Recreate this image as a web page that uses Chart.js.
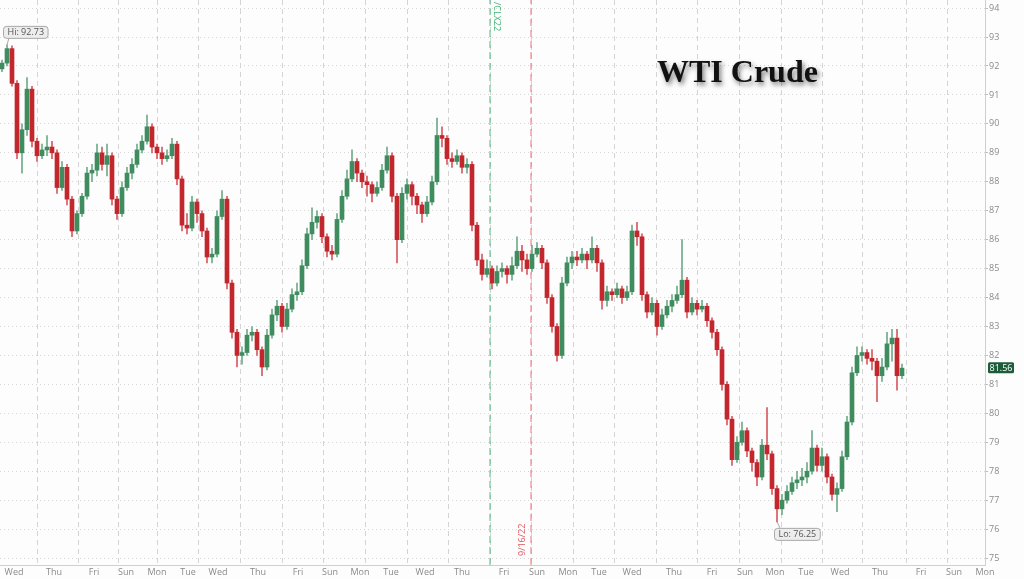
<!DOCTYPE html>
<html lang="en">
<head>
<meta charset="UTF-8">
<title>WTI Crude</title>
<script src="https://cdn.jsdelivr.net/npm/chart.js@4.4.0/dist/chart.umd.min.js"></script>
<style>
  html, body { margin: 0; padding: 0; background: #fdfdfd; }
  canvas { display: block; }
</style>
</head>
<body>
<canvas id="wti" width="1024" height="579"></canvas>
<script>
// hourly-ish WTI candles (one candle per slot)
const opens = [
  91.9, 92.1, 92.6, 91.4, 89.0, 89.8, 91.2, 89.4, 88.9, 89.1,
  89.2, 89.0, 87.8, 88.5, 87.4, 86.3, 86.9, 87.5, 88.3, 88.4,
  89.0, 88.6, 88.9, 87.4, 86.9, 87.8, 88.3, 88.6, 89.1, 89.4,
  89.9, 89.2, 89.0, 88.8, 88.9, 89.3, 88.1, 86.5, 86.4, 87.3,
  86.9, 86.3, 85.4, 85.5, 86.8, 87.4, 84.5, 82.8, 82.0, 82.1,
  82.7, 82.8, 82.2, 81.6, 82.7, 83.4, 83.7, 83.0, 83.6, 84.1,
  84.2, 85.1, 86.2, 86.6, 86.8, 86.1, 85.6, 85.5, 86.7, 87.5,
  88.1, 88.7, 88.3, 88.0, 87.9, 87.6, 87.8, 88.4, 88.9, 87.5,
  86.0, 87.6, 87.9, 87.5, 87.2, 86.9, 87.3, 88.0, 89.6, 89.5,
  88.8, 88.7, 88.9, 88.5, 88.6, 86.5, 85.3, 84.8, 85.0, 84.5,
  84.9, 85.0, 84.8, 85.1, 85.6, 85.3, 85.0, 85.5, 85.7, 85.2,
  84.0, 83.0, 82.0, 84.5, 85.2, 85.4, 85.3, 85.5, 85.3, 85.7,
  85.2, 83.9, 84.2, 84.1, 84.3, 84.0, 84.2, 86.3, 86.1, 84.1,
  83.5, 83.8, 83.0, 83.4, 83.7, 83.9, 84.1, 84.6, 83.5, 83.8,
  83.6, 83.7, 83.2, 82.8, 82.2, 81.0, 79.8, 78.4, 79.0, 79.4,
  78.7, 78.3, 77.8, 78.9, 78.6, 77.4, 76.7, 77.0, 77.3, 77.6,
  77.7, 77.8, 78.0, 78.8, 78.2, 78.5, 77.8, 77.2, 77.4, 78.5,
  79.7, 81.4, 82.0, 82.1, 81.9, 81.8, 81.3, 81.6, 82.4, 82.6,
  81.3
];
const closes = [
  92.1, 92.6, 91.4, 89.0, 89.8, 91.2, 89.4, 88.9, 89.1, 89.2,
  89.0, 87.8, 88.5, 87.4, 86.3, 86.9, 87.5, 88.3, 88.4, 89.0,
  88.6, 88.9, 87.4, 86.9, 87.8, 88.3, 88.6, 89.1, 89.4, 89.9,
  89.2, 89.0, 88.8, 88.9, 89.3, 88.1, 86.5, 86.4, 87.3, 86.9,
  86.3, 85.4, 85.5, 86.8, 87.4, 84.5, 82.8, 82.0, 82.1, 82.7,
  82.8, 82.2, 81.6, 82.7, 83.4, 83.7, 83.0, 83.6, 84.1, 84.2,
  85.1, 86.2, 86.6, 86.8, 86.1, 85.6, 85.5, 86.7, 87.5, 88.1,
  88.7, 88.3, 88.0, 87.9, 87.6, 87.8, 88.4, 88.9, 87.5, 86.0,
  87.6, 87.9, 87.5, 87.2, 86.9, 87.3, 88.0, 89.6, 89.5, 88.8,
  88.7, 88.9, 88.5, 88.6, 86.5, 85.3, 84.8, 85.0, 84.5, 84.9,
  85.0, 84.8, 85.1, 85.6, 85.3, 85.0, 85.5, 85.7, 85.2, 84.0,
  83.0, 82.0, 84.5, 85.2, 85.4, 85.3, 85.5, 85.3, 85.7, 85.2,
  83.9, 84.2, 84.1, 84.3, 84.0, 84.2, 86.3, 86.1, 84.1, 83.5,
  83.8, 83.0, 83.4, 83.7, 83.9, 84.1, 84.6, 83.5, 83.8, 83.6,
  83.7, 83.2, 82.8, 82.2, 81.0, 79.8, 78.4, 79.0, 79.4, 78.7,
  78.3, 77.8, 78.9, 78.6, 77.4, 76.7, 77.0, 77.3, 77.6, 77.7,
  77.8, 78.0, 78.8, 78.2, 78.5, 77.8, 77.2, 77.4, 78.5, 79.7,
  81.4, 82.0, 82.1, 81.9, 81.8, 81.3, 81.6, 82.4, 82.6, 81.3,
  81.56
];
const highs = [
  92.2, 92.73, 92.7, 91.5, 90.0, 91.6, 91.3, 89.5, 89.3, 89.6,
  89.4, 89.1, 88.7, 88.6, 87.5, 87.0, 87.6, 88.5, 88.6, 89.3,
  89.2, 89.3, 89.0, 87.5, 88.0, 88.5, 88.8, 89.3, 89.6, 90.3,
  90.0, 89.3, 89.2, 89.1, 89.5, 89.4, 88.2, 86.9, 87.5, 87.4,
  87.0, 86.4, 85.7, 87.0, 87.7, 87.5, 84.6, 82.9, 82.3, 82.9,
  83.0, 82.9, 82.3, 82.9, 83.6, 83.9, 83.8, 83.8, 84.3, 84.5,
  85.3, 86.4, 87.1, 87.0, 86.9, 86.2, 85.8, 86.9, 87.7, 88.4,
  89.1, 88.8, 88.4, 88.2, 88.0, 88.0, 88.6, 89.2, 89.0, 87.6,
  87.8, 88.1, 88.0, 87.6, 87.3, 87.5, 88.2, 90.2, 89.9, 89.6,
  89.0, 89.1, 89.0, 88.8, 88.7, 86.6, 85.5, 85.3, 85.1, 85.1,
  85.2, 85.1, 85.4, 86.1, 85.8, 85.5, 85.8, 85.9, 85.8, 85.3,
  84.1, 83.1, 84.7, 85.4, 85.6, 85.6, 85.7, 85.6, 86.1, 85.8,
  85.3, 84.4, 84.3, 84.5, 84.4, 84.4, 86.5, 86.6, 86.2, 84.2,
  84.0, 83.9, 83.6, 83.9, 84.1, 84.4, 86.0, 84.7, 84.0, 83.9,
  83.9, 83.8, 83.3, 82.9, 82.3, 81.1, 79.9, 79.2, 79.7, 79.5,
  78.8, 78.4, 79.1, 80.2, 78.7, 77.5, 77.2, 77.5, 77.8, 78.0,
  78.1, 78.3, 79.4, 78.9, 78.8, 78.6, 77.9, 77.6, 78.7, 79.9,
  81.6, 82.3, 82.3, 82.2, 82.2, 81.9, 81.9, 82.8, 82.9, 82.9,
  81.7
];
const lows = [
  91.8, 92.0, 91.3, 88.8, 88.3, 89.6, 89.2, 88.7, 88.8, 88.9,
  88.8, 87.6, 87.7, 87.2, 86.1, 86.2, 86.8, 87.4, 88.0, 88.2,
  88.4, 88.2, 87.2, 86.7, 86.8, 87.7, 88.1, 88.5, 89.0, 89.3,
  89.0, 88.8, 88.6, 88.7, 88.8, 87.9, 86.3, 86.2, 86.3, 86.6,
  86.1, 85.2, 85.2, 85.4, 86.7, 84.3, 82.6, 81.6, 81.7, 82.0,
  82.5, 82.0, 81.3, 81.5, 82.6, 83.2, 82.8, 82.9, 83.5, 83.9,
  84.1, 85.0, 86.0, 86.4, 85.9, 85.4, 85.3, 85.4, 86.6, 87.4,
  88.0, 88.0, 87.8, 87.5, 87.3, 87.5, 87.7, 88.3, 87.3, 85.2,
  85.9, 87.4, 87.2, 86.9, 86.6, 86.8, 87.2, 87.9, 89.2, 88.6,
  88.5, 88.6, 88.3, 88.3, 86.3, 85.1, 84.6, 84.7, 84.3, 84.4,
  84.7, 84.5, 84.6, 85.0, 84.9, 84.8, 84.9, 85.4, 85.0, 83.8,
  82.8, 81.8, 81.9, 84.4, 85.0, 85.1, 85.2, 85.0, 85.2, 84.9,
  83.6, 83.7, 83.9, 84.0, 83.8, 83.9, 84.1, 85.8, 83.9, 83.3,
  83.4, 82.7, 82.9, 83.3, 83.5, 83.8, 84.0, 83.3, 83.4, 83.4,
  83.5, 83.0, 82.6, 82.0, 80.8, 79.6, 78.2, 78.3, 78.9, 78.5,
  78.0, 77.5, 77.7, 78.4, 77.2, 76.25, 76.5, 76.9, 77.2, 77.4,
  77.5, 77.6, 77.9, 78.0, 78.0, 77.6, 77.0, 76.6, 77.3, 78.4,
  79.6, 81.3, 81.8, 81.7, 81.5, 80.4, 81.1, 81.5, 81.8, 80.8,
  81.2
];

// time axis in candle slots
const dayLabels = ['Wed','Thu','Fri','Sun','Mon','Tue','Wed','Thu','Fri','Sun',
  'Mon','Tue','Wed','Thu','Fri','Sun','Mon','Tue','Wed','Thu',
  'Fri','Sun','Mon','Tue','Wed','Thu','Fri','Sun','Mon'];
const dayTicks = [2.4, 10.4, 18.4, 24.8, 31, 37.2, 43.2, 51.2, 59.2, 65.6,
  71.6, 77.8, 84.6, 92, 100.4, 107, 113.2, 119.4, 126, 134.4,
  142, 148.6, 154.6, 160.8, 167.6, 175.6, 183.8, 190.4, 196.6];
const gridTicks = [7, 15.2, 23.4, 31, 39.4, 47.8, 56, 64.2, 72.6, 81, 89.2,
  97.6, 105.8, 114.2, 122.4, 130.8, 139, 147.4, 155.8, 164, 172.2, 180.8, 189];
const priceTicks = [75, 76, 77, 78, 79, 80, 81, 82, 83, 84, 85, 86, 87, 88, 89, 90, 91, 92, 93, 94];

const rollLine = 97.6;     // /CLX22
const expiryLine = 105.8;  // 9/16/22
const yMin = 74.76, yMax = 94.28;
const xMin = -0.4, xMax = 196.6;

const bodies = closes.map((c, i) => ({ x: i, y: [opens[i], c] }));
const wicks = closes.map((c, i) => ({ x: i, y: [lows[i], highs[i]] }));
const isUp = closes.map((c, i) => c >= opens[i]);

const hiIdx = highs.indexOf(Math.max(...highs));
const loIdx = lows.indexOf(Math.min(...lows));

function roundBox(ctx, x, y, w, h, r) {
  ctx.beginPath();
  ctx.moveTo(x + r, y);
  ctx.arcTo(x + w, y, x + w, y + h, r);
  ctx.arcTo(x + w, y + h, x, y + h, r);
  ctx.arcTo(x, y + h, x, y, r);
  ctx.arcTo(x, y, x + w, y, r);
  ctx.closePath();
}

function noPad(s) {
  s.paddingTop = 0; s.paddingBottom = 0; s.paddingLeft = 0; s.paddingRight = 0;
}

const bgPlugin = {
  id: 'bg',
  beforeDraw(chart) {
    const ctx = chart.ctx;
    ctx.save();
    ctx.fillStyle = '#fdfdfd';
    ctx.fillRect(0, 0, chart.width, chart.height);
    ctx.restore();
  }
};

const notesPlugin = {
  id: 'notes',
  afterDatasetsDraw(chart) {
    const ctx = chart.ctx;
    const xs = chart.scales.x, ys = chart.scales.y;
    const font = '9px "Open Sans", sans-serif';
    ctx.save();

    // vertical line captions
    ctx.font = font;
    ctx.textBaseline = 'bottom';
    ctx.textAlign = 'left';
    ctx.fillStyle = '#3cb371';
    ctx.save();
    ctx.translate(xs.getPixelForValue(rollLine) + 2, 2);
    ctx.rotate(Math.PI / 2);
    ctx.fillText('/CLX22', 0, 0);
    ctx.restore();
    ctx.fillStyle = '#e0555a';
    ctx.save();
    ctx.translate(xs.getPixelForValue(expiryLine) - 4, 556);
    ctx.rotate(-Math.PI / 2);
    ctx.fillText('9/16/22', 0, 0);
    ctx.restore();

    // hi / lo callouts
    const drawCallout = (text, px, py, bx, by) => {
      ctx.font = font;
      const w = ctx.measureText(text).width + 8, h = 12;
      ctx.strokeStyle = '#a8a8a8';
      ctx.lineWidth = 1;
      ctx.beginPath();
      ctx.moveTo(px, py);
      ctx.lineTo(bx + 6, by < py ? by + h : by);
      ctx.stroke();
      roundBox(ctx, bx + 0.5, by + 0.5, w, h, 3);
      ctx.fillStyle = '#ededed';
      ctx.fill();
      ctx.stroke();
      ctx.fillStyle = '#555';
      ctx.textAlign = 'left';
      ctx.textBaseline = 'middle';
      ctx.fillText(text, bx + 4.5, by + h / 2 + 1);
    };
    const hx = xs.getPixelForValue(hiIdx), hy = ys.getPixelForValue(highs[hiIdx]);
    drawCallout('Hi: ' + highs[hiIdx].toFixed(2), hx, hy, hx - 4, hy - 19);
    const lx = xs.getPixelForValue(loIdx), ly = ys.getPixelForValue(lows[loIdx]);
    drawCallout('Lo: ' + lows[loIdx].toFixed(2), lx, ly, lx - 3, ly + 6);

    // last price tag
    const last = closes[closes.length - 1];
    const ty = ys.getPixelForValue(last);
    ctx.fillStyle = '#1d5c39';
    roundBox(ctx, ys.left + 3, ty - 6, 26, 11, 1.5);
    ctx.fill();
    ctx.fillStyle = '#ffffff';
    ctx.textAlign = 'center';
    ctx.textBaseline = 'middle';
    ctx.fillText(last.toFixed(2), ys.left + 16, ty);

    // title
    ctx.font = 'bold 32px "Liberation Serif", serif';
    ctx.textAlign = 'left';
    ctx.textBaseline = 'alphabetic';
    ctx.shadowColor = 'rgba(0,0,0,0.5)';
    ctx.shadowBlur = 5;
    ctx.shadowOffsetX = 2;
    ctx.shadowOffsetY = 3;
    ctx.fillStyle = '#111';
    ctx.fillText('WTI Crude', 657, 82);
    ctx.restore();
  }
};

new Chart(document.getElementById('wti'), {
  type: 'bar',
  data: {
    datasets: [
      {
        type: 'bar',
        data: bodies,
        backgroundColor: isUp.map(u => u ? '#3f8d5e' : '#c1272d'),
        barThickness: 4,
        grouped: false,
        order: 0
      },
      {
        type: 'bar',
        data: wicks,
        backgroundColor: isUp.map(u => u ? '#6fac88' : '#d65a61'),
        barThickness: 1,
        grouped: false,
        order: 1
      },
      {
        type: 'line',
        data: [{ x: rollLine, y: yMin }, { x: rollLine, y: yMax }],
        borderColor: '#48c07c',
        borderWidth: 1,
        borderDash: [7, 4],
        pointRadius: 0,
        order: 2
      },
      {
        type: 'line',
        data: [{ x: expiryLine, y: yMin }, { x: expiryLine, y: yMax }],
        borderColor: '#e8757a',
        borderWidth: 1,
        borderDash: [7, 4],
        pointRadius: 0,
        order: 2
      }
    ]
  },
  options: {
    responsive: false,
    animation: false,
    events: [],
    layout: { padding: 0 },
    plugins: { legend: { display: false }, tooltip: { enabled: false } },
    scales: {
      x: {
        type: 'linear',
        offset: false,
        min: xMin,
        max: xMax,
        afterBuildTicks: s => { s.ticks = dayTicks.map(v => ({ value: v })); },
        afterFit: s => { s.height = 14; noPad(s); },
        grid: { display: false, drawTicks: false, offset: false },
        border: { display: true, color: '#cfcfcf' },
        ticks: {
          autoSkip: false,
          maxRotation: 0,
          padding: 2,
          color: '#8a8a8a',
          font: { family: 'Open Sans', size: 9 },
          callback: (v, i) => dayLabels[i]
        }
      },
      xg: {
        type: 'linear',
        position: 'bottom',
        offset: false,
        min: xMin,
        max: xMax,
        afterBuildTicks: s => { s.ticks = gridTicks.map(v => ({ value: v })); },
        afterFit: s => { s.height = 0; noPad(s); },
        ticks: { display: false },
        grid: { color: '#d3d3d3', drawTicks: false, offset: false },
        border: { display: false, dash: [5, 4] }
      },
      y: {
        position: 'right',
        min: yMin,
        max: yMax,
        afterBuildTicks: s => { s.ticks = priceTicks.map(v => ({ value: v })); },
        afterFit: s => { s.width = 39; noPad(s); },
        grid: { color: '#d6d6d6', tickLength: 3, tickColor: '#bbbbbb' },
        border: { display: true, color: '#cfcfcf', dash: [1, 3] },
        ticks: {
          padding: 1,
          color: '#8a8a8a',
          font: { family: 'Open Sans', size: 9 }
        }
      }
    }
  },
  plugins: [bgPlugin, notesPlugin]
});
</script>
</body>
</html>
